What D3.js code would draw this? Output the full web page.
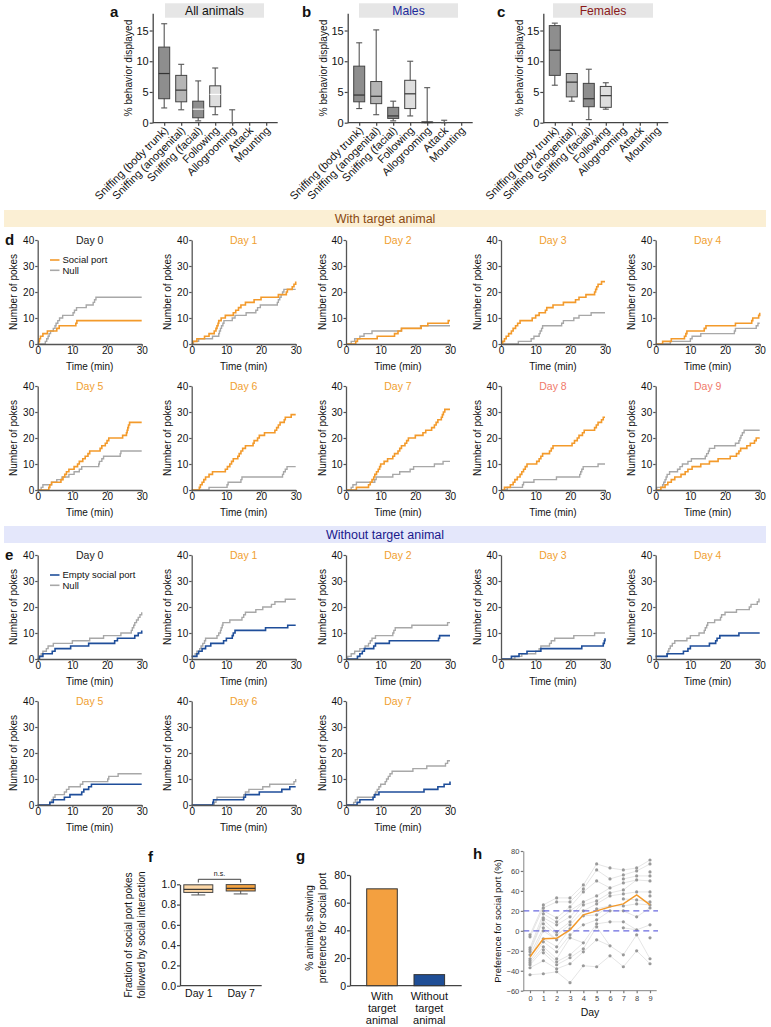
<!DOCTYPE html>
<html><head><meta charset="utf-8">
<script src="https://cdn.jsdelivr.net/npm/d3@7"></script>
<style>
body{margin:0;background:#fff;}
svg{display:block;font-family:"Liberation Sans",Arial,Helvetica,sans-serif;}
</style></head><body>
<script>
// ---------------- DATA ----------------
const behaviorCats = ["Sniffing (body trunk)","Sniffing (anogenital)","Sniffing (facial)","Following","Allogrooming","Attack","Mounting"];
// [whiskerLow, q1, median, q3, whiskerHigh]
const allAnimals = [[2.4,3.9,8.0,12.3,16.1],[2.1,3.4,5.3,7.7,9.5],[0.3,0.8,2.2,3.5,6.8],[1.3,2.6,4.6,6.0,8.9],[0,0,0,0,2.1],[0,0,0,0,0],[0,0,0,0,0]];
const males = [[2.3,3.4,4.5,9.2,13.0],[1.3,3.1,4.3,6.7,15.1],[0.3,0.7,1.1,2.5,3.5],[1.1,2.3,4.7,6.9,10.0],[0,0,0.1,0.1,5.7],[0,0,0,0,0.4],[0,0,0,0,0]];
const females = [[6.1,7.7,11.8,15.8,16.2],[3.5,4.2,6.6,8.0,8.0],[0.5,2.6,3.9,6.4,8.7],[2.2,2.5,4.4,5.9,6.5],[0,0,0,0,0],[0,0,0,0,0],[0,0,0,0,0]];
const boxYTicks = [0,5,10,15];

const pokeYTicks = [0,10,20,30,40];
const pokeXTicks = [0,10,20,30];
const withDays = ["Day 0","Day 1","Day 2","Day 3","Day 4","Day 5","Day 6","Day 7","Day 8","Day 9"];
const withoutDays = ["Day 0","Day 1","Day 2","Day 3","Day 4","Day 5","Day 6","Day 7"];
// cumulative pokes: [time (min), count]
const withSocial = [
 [[0,0],[0.3,1],[0.5,2],[0.8,3],[1.5,4],[2.8,5],[5.5,6],[6.2,7],[11,8],[11.3,9],[30,9]],
 [[0,0],[0.3,1],[1.5,2],[3.7,3],[5,4],[6.5,5],[7,6],[7.3,7],[7.6,8],[7.8,9],[8.5,10],[9.7,11],[12,12],[12.7,13],[13.5,14],[14.2,15],[15.5,16],[18,17],[20,18],[25,19],[27.3,20],[27.6,21],[29,22],[29.5,23],[30,24]],
 [[0,0],[2.8,1],[3.3,2],[9,3],[14,4],[15,5],[16,6],[21.7,7],[23.6,8],[29.5,9],[30,9]],
 [[0,0],[0.5,1],[1,2],[1.5,3],[2.2,4],[3,5],[3.5,6],[4.2,7],[4.8,8],[5.5,9],[9,10],[10,11],[11,12],[12.8,13],[13.2,14],[15,15],[18,16],[21.5,17],[22.5,18],[24.5,19],[27,20],[27.3,21],[27.6,22],[28,23],[29,24],[30,24]],
 [[0,0],[2,1],[4.5,2],[8.3,3],[8.7,4],[9,5],[14,6],[14.5,7],[23,8],[27.7,9],[28,10],[29.7,11],[30,12]],
 [[0,0],[3.2,1],[3.5,2],[4,3],[6.7,4],[7.3,5],[7.8,6],[8.3,7],[9,8],[10.5,9],[11.5,10],[12,11],[13,12],[13.7,13],[14.5,14],[15,15],[18,16],[18.5,17],[19.5,18],[20,19],[20.5,20],[24.5,21],[25.6,22],[25.8,23],[26,24],[26.2,25],[26.5,26],[30,26]],
 [[0,0],[2.2,1],[2.5,2],[3,3],[3.5,4],[4,5],[5,6],[6,7],[9.7,8],[10.3,9],[11,10],[11.5,11],[12,12],[13.3,13],[13.7,14],[14.2,15],[14.7,16],[15.5,17],[17.7,18],[18,19],[19,20],[19.5,21],[21,22],[24,23],[24.5,24],[25,25],[25.5,26],[26.7,27],[27,28],[28.7,29],[30,29]],
 [[0,0],[3,1],[6.5,2],[7,3],[7.5,4],[8,5],[8.3,6],[8.8,7],[9.3,8],[9.7,9],[10,10],[11,11],[12,12],[13.5,13],[14,14],[15,15],[15.5,16],[16,17],[17,18],[17.5,19],[18,20],[20,21],[22.2,22],[23,23],[24.7,24],[25.5,25],[26,26],[26.5,27],[27.5,28],[27.8,29],[28.1,30],[28.5,31],[30,31]],
 [[0,0],[1,1],[2.7,2],[3.5,3],[4,4],[4.7,5],[5.5,6],[6,7],[6.5,8],[7,9],[7.5,10],[10.3,11],[11,12],[11.5,13],[12,14],[14,15],[14.5,16],[15,17],[20.5,18],[21.2,19],[22,20],[22.5,21],[23.5,22],[24,23],[27,24],[27.5,25],[28,26],[29,27],[29.5,28],[30,28]],
 [[0,0],[1.5,1],[2.7,2],[3.5,3],[4.5,4],[5.5,5],[7.3,6],[8.5,7],[9.3,8],[10.5,9],[13,10],[15.5,11],[18,12],[21.5,13],[23.3,14],[24,15],[24.5,16],[26.3,17],[27.3,18],[28.5,19],[29,20],[30,20]]
];
const withNull = [
 [[0,0],[2.2,1],[2.6,2],[3,3],[3.3,4],[3.7,5],[4.5,6],[5,7],[5.3,8],[5.8,9],[6.3,10],[7.2,11],[10.2,12],[10.6,13],[11.2,14],[14,15],[16,16],[16.4,17],[16.8,18],[30,18]],
 [[0,0],[0.5,1],[2,2],[6,3],[7.8,4],[8,5],[8.3,6],[8.6,7],[9,8],[9.3,9],[11.7,10],[12.5,11],[15.7,12],[18.5,13],[19,14],[19.8,15],[24.7,16],[25,17],[25.4,18],[25.8,19],[26.2,20],[26.6,21],[30,21]],
 [[0,0],[1.5,1],[2.5,2],[4,3],[5.2,4],[7.5,5],[16,6],[21.5,7],[30,7]],
 [[0,0],[5,1],[8.7,2],[9.5,3],[11,4],[11.3,5],[11.7,6],[12,7],[17.5,8],[18,9],[21,10],[22.5,11],[26,12],[30,12]],
 [[0,0],[4.2,1],[10,2],[10.5,3],[13,4],[22.7,5],[23,6],[29,7],[29.5,8],[30,8]],
 [[0,0],[1,1],[1.5,2],[4,3],[5.5,4],[7,5],[9,6],[10.5,7],[12,8],[12.7,9],[17.6,10],[17.8,11],[18.5,12],[19,13],[23.8,14],[24,15],[30,15]],
 [[0,0],[5,1],[10.2,2],[10.5,3],[14.2,4],[14.5,5],[26.2,6],[26.5,7],[27,8],[27.5,9],[30,9]],
 [[0,0],[1.5,1],[2,2],[3,3],[8.3,4],[8.7,5],[13.5,6],[15.5,7],[18.5,8],[19.5,9],[25.5,10],[28,11],[30,11]],
 [[0,0],[1.8,1],[6.2,2],[6.5,3],[9.5,4],[16,5],[22.7,6],[23,7],[23.3,8],[23.7,9],[28,10],[30,10]],
 [[0,0],[0.3,1],[2,2],[2.3,3],[2.7,4],[3,5],[3.3,6],[4,7],[6.3,8],[7,9],[7.7,10],[9.3,11],[10.3,12],[14.3,13],[14.7,14],[15.2,15],[15.5,16],[17,17],[23,18],[24,19],[24.3,20],[24.6,21],[25,22],[25.5,23],[30,23]]
];
const withoutSocial = [
 [[0,0],[0.5,1],[1.5,2],[4.2,3],[5,4],[9.5,5],[14.7,6],[22.2,7],[23,8],[28,9],[29,10],[30,11]],
 [[0,1],[1.5,2],[2,3],[3,4],[4,5],[5.5,6],[9.2,7],[10,8],[11.7,9],[12,10],[12.5,11],[21.3,12],[27.7,13],[30,13]],
 [[0,0],[3.3,1],[4,2],[4.7,3],[5.3,4],[8,5],[8.5,6],[12.5,7],[26.7,8],[27,9],[30,9]],
 [[0,0],[3,1],[5.2,2],[7.5,3],[11.5,4],[23.3,5],[29.5,6],[29.8,7],[30,8]],
 [[0,1],[3.3,2],[8,3],[9.3,4],[10,5],[15.5,6],[17.3,7],[17.7,8],[18.5,9],[24,10],[30,10]],
 [[0,0],[3.5,1],[4.5,2],[7.7,3],[9.3,4],[12.7,5],[13.3,6],[14.7,7],[15.5,8],[30,8]],
 [[0,0],[6.1,1],[6.3,2],[15,3],[15.5,4],[19.5,5],[26,6],[28.3,7],[30,7]],
 [[0,0],[3.2,1],[4,2],[7.8,3],[8.3,4],[9.5,5],[22.5,6],[26.5,7],[28.3,8],[30,9]]
];
const withoutNull = [
 [[0,0],[0.5,1],[1,2],[1.5,3],[2.5,4],[3,5],[4.5,6],[10,7],[15,8],[19,9],[24,10],[27,11],[27.3,12],[27.7,13],[28,14],[28.5,15],[29,16],[29.5,17],[30,18]],
 [[0,1],[1,2],[1.5,3],[2.3,4],[2.7,5],[3.2,6],[3.7,7],[4,8],[7.3,9],[7.8,10],[8.3,11],[8.5,12],[8.8,13],[9,14],[11,15],[14.5,16],[15,17],[15.5,18],[18.5,19],[20.5,20],[23,21],[24,22],[27,23],[30,23]],
 [[0,0],[0.5,1],[1.5,2],[2.5,3],[4,4],[5.5,5],[6.5,6],[7,7],[7.5,8],[8.5,9],[13.5,10],[13.8,11],[14.2,12],[19,13],[29.3,14],[30,14]],
 [[0,0],[4,1],[6,2],[10,3],[11,4],[11.5,5],[14,6],[14.5,7],[15.5,8],[21,9],[27,10],[30,10]],
 [[0,1],[3.2,2],[3.5,3],[3.8,4],[4.2,5],[4.8,6],[5.5,7],[9,8],[10,9],[12.5,10],[14,11],[14.3,12],[14.7,13],[15,14],[17,15],[18.7,16],[19,17],[20,18],[23.3,19],[27,20],[27.5,21],[29.3,22],[29.8,23],[30,23]],
 [[0,0],[3.5,1],[4,2],[4.5,3],[5,4],[7.7,5],[8.3,6],[9,7],[12.3,8],[13,9],[20.2,10],[20.5,11],[23.2,12],[30,12]],
 [[0,0],[6.5,1],[7,2],[7.3,3],[15,4],[15.5,5],[16.5,6],[20.5,7],[22.5,8],[29.5,9],[30,10]],
 [[0,0],[2.2,1],[2.7,2],[3.3,3],[8,4],[8.5,5],[9,6],[9.5,7],[10,8],[11.3,9],[11.7,10],[12.2,11],[12.7,12],[13.3,13],[19.3,14],[23.3,15],[28.7,16],[29.3,17],[30,17]]
];

const fCats = ["Day 1","Day 7"];
const fBoxes = [[0.895,0.92,0.95,0.995,0.995],[0.905,0.934,0.96,0.997,0.997]];
const fYTicks = [0,0.2,0.4,0.6,0.8,1.0];

const gCats = ["With target animal","Without target animal"];
const gValues = [70,8];
const gYTicks = [0,20,40,60,80];

const hDays = [0,1,2,3,4,5,6,7,8,9];
const hDots = [
 [-4,-6,-17,-19,-21,-24,-28,-30,-32,-34,-37,-44],
 [26,23,20,17,13,11,7,3,0,-8,-11,-16,-19,-22,-30,-43],
 [33,29,13,9,6,-1,-4,-9,-16,-21,-28,-31,-34,-38,-41],
 [33,29,24,20,14,9,6,2,-4,-7,-24,-27,-33,-52],
 [46,42,39,29,26,20,15,6,-12,-18,-21,-35],
 [67,61,50,35,30,27,22,16,11,7,4,-9,-36],
 [63,52,43,38,35,25,20,9,-15,-25],
 [61,56,52,48,41,37,32,25,20,9,3,-24,-36],
 [63,60,55,51,39,31,27,14,1,-4,-20],
 [71,67,59,55,50,39,35,29,26,23,6,-7,-28,-33]
];
const hMean = [-26,-8,-7.5,1,16,20,24,27,36,26];
const hYTicks = [-60,-40,-20,0,20,40,60,80];
const hThresholds = [20,0];

// ---------------- DRAW ----------------
const FONT = '"Liberation Sans", Arial, Helvetica, sans-serif';
const svg = d3.select("body").append("svg").attr("width",771).attr("height",1027);
const ORANGE = "#f39a2b", GRAY = "#a8a8a8", BLUE = "#1f4e9a";

function txt(g, x, y, s, o = {}) {
  const t = g.append("text").attr("x", x).attr("y", y).text(s)
    .attr("font-size", o.size || 10).attr("fill", o.fill || "#111")
    .attr("text-anchor", o.anchor || "start").attr("font-weight", o.weight || "normal")
    .attr("font-family", FONT);
  if (o.dy) t.attr("dy", o.dy);
  if (o.rotate) t.attr("transform", `rotate(${o.rotate},${x},${y})`);
  return t;
}
function styleAxis(g, color, fs, tfill) {
  g.attr("font-family", FONT).attr("font-size", fs);
  g.select(".domain").attr("stroke", color).attr("stroke-width", 1.3);
  g.selectAll(".tick line").attr("stroke", color).attr("stroke-width", 1.2);
  g.selectAll(".tick text").attr("fill", tfill || "#111");
}

// ---- panels a, b, c ----
const boxPanels = [
  {label:"a", lx:110, title:"All animals", tcol:"#111", data:allAnimals, ax:152.7, tx:[165,264], med:["#333","#333","#eee","#fff","#333","#333","#333"]},
  {label:"b", lx:302, title:"Males", tcol:"#1c2a9c", data:males, ax:347.7, tx:[359,458], med:["#333","#333","#333","#333","#333","#333","#333"]},
  {label:"c", lx:497, title:"Females", tcol:"#8b1a1a", data:females, ax:543.3, tx:[553,653], med:["#333","#333","#333","#333","#333","#333","#333"]}
];
const boxFills = ["#8e8e8e","#b5b5b5","#8e8e8e","#dedede","#ccc","#ccc","#ccc"];
boxPanels.forEach(p => {
  const g = svg.append("g");
  const y = d3.scaleLinear().domain([0,17.8]).range([122.7,13.3]);
  const x = d3.scalePoint().domain(behaviorCats).range([p.ax+11.5, p.ax+113.5]);
  g.append("rect").attr("x",p.tx[0]).attr("y",3.3).attr("width",p.tx[1]-p.tx[0]).attr("height",14.4).attr("fill","#e6e6e6");
  txt(g,(p.tx[0]+p.tx[1])/2,15,p.title,{size:12.2,fill:p.tcol,anchor:"middle"});
  txt(g,p.lx,17,p.label,{size:15,weight:"bold"});
  const ya = g.append("g").attr("transform",`translate(${p.ax},0)`)
    .call(d3.axisLeft(y).tickValues(boxYTicks).tickSize(3).tickSizeOuter(0).tickPadding(1));
  styleAxis(ya,"#444",11);
  const xa = g.append("g").attr("transform",`translate(0,${y(0)})`)
    .call(d3.axisBottom(x).tickSize(3).tickSizeOuter(0));
  styleAxis(xa,"#444",11);
  xa.select(".domain").remove();
  xa.selectAll(".tick text").attr("x",-3).attr("y",5).attr("dy","0.35em")
    .attr("text-anchor","end").attr("transform","rotate(-45)");
  g.append("line").attr("x1",p.ax).attr("x2",p.ax+125).attr("y1",y(0)).attr("y2",y(0)).attr("stroke","#444").attr("stroke-width",1.3);
  txt(g,p.ax-24,(y(0)+y(17.8))/2,"% behavior displayed",{size:10.2,anchor:"middle",rotate:-90,dy:"0.35em"});
  p.data.forEach((d,i) => {
    const cx = x(behaviorCats[i]); const [lo,q1,md,q3,hi] = d;
    if (hi > lo) {
      g.append("line").attr("x1",cx).attr("x2",cx).attr("y1",y(lo)).attr("y2",y(hi)).attr("stroke","#555").attr("stroke-width",1.1);
      [lo,hi].forEach(v => g.append("line").attr("x1",cx-3).attr("x2",cx+3).attr("y1",y(v)).attr("y2",y(v)).attr("stroke","#555").attr("stroke-width",1.1));
    }
    if (q3 > q1) {
      g.append("rect").attr("x",cx-5.5).attr("width",11).attr("y",y(q3)).attr("height",y(q1)-y(q3))
        .attr("fill",boxFills[i]).attr("stroke","#444").attr("stroke-width",1);
      g.append("line").attr("x1",cx-5.5).attr("x2",cx+5.5).attr("y1",y(md)).attr("y2",y(md)).attr("stroke",p.med[i]).attr("stroke-width",1.2);
    } else if (md > 0) {
      g.append("line").attr("x1",cx-5.5).attr("x2",cx+5.5).attr("y1",y(md)).attr("y2",y(md)).attr("stroke","#333").attr("stroke-width",1.2);
    }
  });
});

// ---- section bands ----
function band(y0, h, fill, label, col) {
  svg.append("rect").attr("x",4).attr("y",y0).attr("width",762).attr("height",h).attr("fill",fill);
  txt(svg,385,y0+h/2,label,{size:12.5,fill:col,anchor:"middle",dy:"0.35em"});
}
band(210,17,"#fbefd4","With target animal","#8a4a12");
band(526,17,"#e4e7fb","Without target animal","#1a1a8c");

// ---- poke charts ----
const chartXs = [37.7,191.7,346,501,655.7];
function dayColor(i){ return i===0 ? "#222" : (i>=8 ? "#f07a6a" : "#f0a030"); }
function pokesChart(x0, yTop, title, tColor, sData, nData, sColor) {
  const g = svg.append("g");
  const x = d3.scaleLinear().domain([0,30]).range([x0, x0+104]);
  const y = d3.scaleLinear().domain([0,40]).range([yTop+104, yTop]);
  const line = d3.line().x(d => x(d[0])).y(d => y(d[1])).curve(d3.curveStepAfter);
  g.append("path").datum(nData).attr("d",line).attr("fill","none").attr("stroke",GRAY).attr("stroke-width",1.4);
  g.append("path").datum(sData).attr("d",line).attr("fill","none").attr("stroke",sColor).attr("stroke-width",1.6);
  const ya = g.append("g").attr("transform",`translate(${x0},0)`)
    .call(d3.axisLeft(y).tickValues(pokeYTicks).tickSize(2.5).tickSizeOuter(0).tickPadding(1));
  styleAxis(ya,"#555",10);
  const xa = g.append("g").attr("transform",`translate(0,${yTop+104})`)
    .call(d3.axisBottom(x).tickValues(pokeXTicks).tickSize(2.5).tickSizeOuter(0).tickPadding(0));
  styleAxis(xa,"#555",10);
  txt(g,x0+52,yTop+4,title,{size:10.5,fill:tColor,anchor:"middle"});
  txt(g,x0-24,yTop+52,"Number of pokes",{size:10,anchor:"middle",rotate:-90,dy:"0.35em"});
  txt(g,x0+52,yTop+130,"Time (min)",{size:10,anchor:"middle"});
}
function legend(x0, y0, items) {
  items.forEach((it,i) => {
    svg.append("line").attr("x1",x0).attr("x2",x0+9.5).attr("y1",y0+i*10.3).attr("y2",y0+i*10.3).attr("stroke",it[1]).attr("stroke-width",1.6);
    txt(svg,x0+12.5,y0+i*10.3,it[0],{size:9.5,dy:"0.35em"});
  });
}
const dRows = [240,386];
withDays.forEach((t,i) => {
  pokesChart(chartXs[i%5], dRows[Math.floor(i/5)], t, dayColor(i), withSocial[i], withNull[i], ORANGE);
});
legend(50,260,[["Social port",ORANGE],["Null",GRAY]]);
txt(svg,5,245,"d",{size:15,weight:"bold"});

const eRows = [555,701];
withoutDays.forEach((t,i) => {
  pokesChart(chartXs[i%5], eRows[Math.floor(i/5)], t, dayColor(i), withoutSocial[i], withoutNull[i], BLUE);
});
legend(50,575,[["Empty social port",BLUE],["Null",GRAY]]);
txt(svg,5,560,"e",{size:15,weight:"bold"});

// ---- panel f ----
{
  const g = svg.append("g");
  const y = d3.scaleLinear().domain([0,1]).range([985.7,884.3]);
  const x = d3.scalePoint().domain(fCats).range([198.3,240.7]);
  const ya = g.append("g").attr("transform","translate(180,0)")
    .call(d3.axisLeft(y).tickValues(fYTicks).tickFormat(d3.format(".1f")).tickSize(3).tickSizeOuter(0).tickPadding(1));
  styleAxis(ya,"#444",10.5);
  const xa = g.append("g").attr("transform",`translate(0,${y(0)})`).call(d3.axisBottom(x).tickSize(0).tickPadding(4));
  styleAxis(xa,"#444",10.5);
  xa.select(".domain").remove();
  g.append("line").attr("x1",180).attr("x2",261.7).attr("y1",y(0)).attr("y2",y(0)).attr("stroke","#444").attr("stroke-width",1.3);
  const fills = ["#fdd8a8","#f5a340"];
  fBoxes.forEach((d,i) => {
    const cx = x(fCats[i]); const [lo,q1,md,q3,hi] = d;
    g.append("line").attr("x1",cx).attr("x2",cx).attr("y1",y(lo)).attr("y2",y(hi)).attr("stroke","#555");
    g.append("line").attr("x1",cx-7).attr("x2",cx+7).attr("y1",y(lo)).attr("y2",y(lo)).attr("stroke","#555");
    g.append("rect").attr("x",cx-14.5).attr("width",29).attr("y",y(q3)).attr("height",y(q1)-y(q3)).attr("fill",fills[i]).attr("stroke","#444");
    g.append("line").attr("x1",cx-14.5).attr("x2",cx+14.5).attr("y1",y(md)).attr("y2",y(md)).attr("stroke","#333").attr("stroke-width",1.2);
  });
  const bx0 = x(fCats[0]), bx1 = x(fCats[1]);
  g.append("path").attr("d",`M${bx0},${882.5}V${879.3}H${bx1}V${882.5}`).attr("fill","none").attr("stroke","#444");
  txt(g,(bx0+bx1)/2,876,"n.s.",{size:7,anchor:"middle"});
  txt(g,128,935,"Fraction of social port pokes",{size:10,anchor:"middle",rotate:-90,dy:"0.35em"});
  txt(g,141,935,"followed by social interaction",{size:10,anchor:"middle",rotate:-90,dy:"0.35em"});
  txt(g,148,862,"f",{size:15,weight:"bold"});
}

// ---- panel g ----
{
  const g = svg.append("g");
  const y = d3.scaleLinear().domain([0,80]).range([985.7,875]);
  const x = d3.scalePoint().domain(gCats).range([382,429.3]);
  const ya = g.append("g").attr("transform","translate(350,0)")
    .call(d3.axisLeft(y).tickValues(gYTicks).tickSize(3).tickSizeOuter(0).tickPadding(1));
  styleAxis(ya,"#444",10.5);
  g.append("line").attr("x1",350).attr("x2",461.7).attr("y1",y(0)).attr("y2",y(0)).attr("stroke","#444").attr("stroke-width",1.3);
  const fills = ["#f3a040","#1f4e96"];
  gCats.forEach((c,i) => {
    g.append("rect").attr("x",x(c)-15.3).attr("width",30.6).attr("y",y(gValues[i])).attr("height",y(0)-y(gValues[i]))
      .attr("fill",fills[i]).attr("stroke","#333").attr("stroke-width",1);
    const words = c.split(" ");
    words.forEach((w,j) => txt(g,x(c),999.5+j*12.3,w,{size:11,anchor:"middle"}));
  });
  txt(g,309,928,"% animals showing",{size:10,anchor:"middle",rotate:-90,dy:"0.35em"});
  txt(g,322.7,928,"preference for social port",{size:10,anchor:"middle",rotate:-90,dy:"0.35em"});
  txt(g,296,861,"g",{size:15,weight:"bold"});
}

// ---- panel h ----
{
  const g = svg.append("g");
  const y = d3.scaleLinear().domain([-60,80]).range([990.7,851]);
  const x = d3.scaleLinear().domain([0,9]).range([530,650]);
  // faint lines between days (rank-matched)
  for (let d = 0; d < hDays.length-1; d++) {
    const a = hDots[d].slice().sort((p,q)=>q-p), b = hDots[d+1].slice().sort((p,q)=>q-p);
    a.forEach((v,i) => {
      const j = Math.round(i*(b.length-1)/(a.length-1));
      g.append("line").attr("x1",x(hDays[d])).attr("y1",y(v)).attr("x2",x(hDays[d+1])).attr("y2",y(b[j]))
        .attr("stroke","#dadada").attr("stroke-width",0.7);
    });
  }
  hDots.forEach((arr,d) => arr.forEach(v => g.append("circle").attr("cx",x(hDays[d])).attr("cy",y(v)).attr("r",1.6).attr("fill","#9a9a9a")));
  hThresholds.forEach(t => g.append("line").attr("x1",523.3).attr("x2",658).attr("y1",y(t)).attr("y2",y(t))
    .attr("stroke","#6a6ae0").attr("stroke-width",1.4).attr("stroke-dasharray","6,4"));
  g.append("path").datum(hMean).attr("d",d3.line().x((d,i)=>x(hDays[i])).y(d=>y(d)))
    .attr("fill","none").attr("stroke",ORANGE).attr("stroke-width",1.5);
  const ya = g.append("g").attr("transform","translate(523.3,0)")
    .call(d3.axisLeft(y).tickValues(hYTicks).tickSize(2.5).tickSizeOuter(0).tickPadding(1.5));
  styleAxis(ya,"#777",7.5,"#444");
  ya.select(".domain").attr("stroke-width",0.9);
  const xa = g.append("g").attr("transform",`translate(0,${y(-60)})`)
    .call(d3.axisBottom(x).tickValues(hDays).tickSize(2.5).tickSizeOuter(0).tickPadding(2));
  styleAxis(xa,"#777",7.5,"#444");
  xa.select(".domain").attr("d",`M${523.3},0H${656.7}`).attr("stroke-width",0.9);
  txt(g,498,921,"Preference for social port (%)",{size:9.5,anchor:"middle",rotate:-90,dy:"0.35em"});
  txt(g,590,1016,"Day",{size:10.5,anchor:"middle"});
  txt(g,473,859,"h",{size:15,weight:"bold"});
}
</script>
</body></html>
